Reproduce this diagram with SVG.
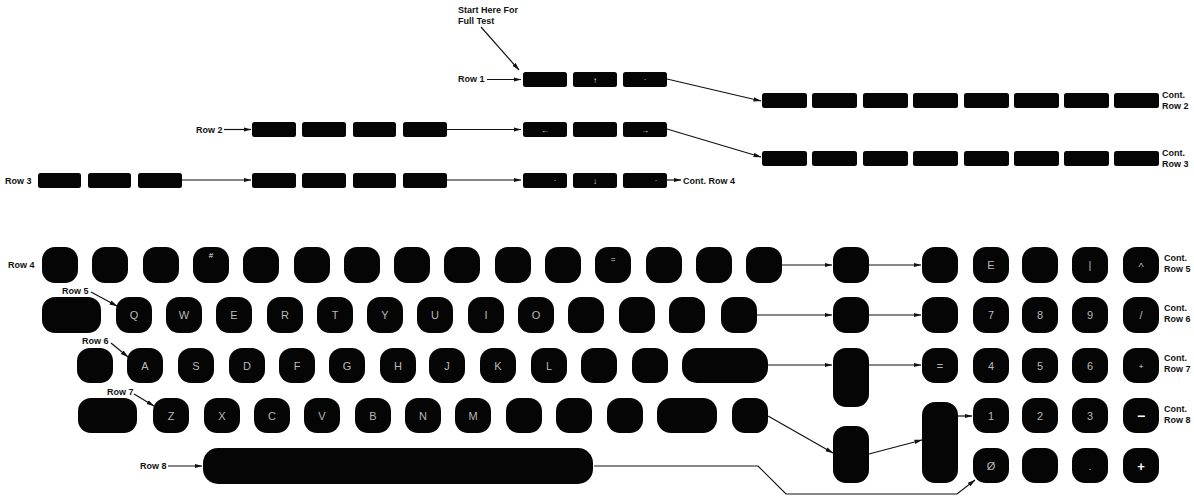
<svg xmlns="http://www.w3.org/2000/svg" width="1194" height="498" viewBox="0 0 1194 498">
<style>
.t{fill:#050505;}
.k{fill:#050505;}
.lbl{font-family:"Liberation Sans",Arial,sans-serif;font-size:9px;font-weight:bold;fill:#111;}
.lg{font-family:"Liberation Sans",Arial,sans-serif;font-size:11px;fill:#b8b8b8;text-anchor:middle;}
.sm{font-family:"Liberation Sans",Arial,sans-serif;font-size:8px;fill:#e0e0e0;text-anchor:middle;}
.c{fill:none;stroke:#111;stroke-width:1.2;}
</style>
<defs>
<marker id="a" markerWidth="8" markerHeight="6" refX="7.5" refY="3" orient="auto" markerUnits="userSpaceOnUse">
<path d="M0,0.8 L8,3 L0,5.2 Z" fill="#111"/>
</marker>
</defs>
<rect width="1194" height="498" fill="#fff"/>

<g id="labels">
<text class="lbl" x="458" y="13">Start Here For</text>
<text class="lbl" x="458" y="24">Full Test</text>
<text class="lbl" x="458" y="82">Row 1</text>
<text class="lbl" x="196" y="133">Row 2</text>
<text class="lbl" x="5" y="184">Row 3</text>
<text class="lbl" x="1162" y="98">Cont.</text>
<text class="lbl" x="1162" y="109">Row 2</text>
<text class="lbl" x="1162" y="156">Cont.</text>
<text class="lbl" x="1162" y="167">Row 3</text>
<text class="lbl" x="683" y="184">Cont. Row 4</text>
<text class="lbl" x="8" y="268">Row 4</text>
<text class="lbl" x="62" y="294">Row 5</text>
<text class="lbl" x="82" y="344">Row 6</text>
<text class="lbl" x="107" y="395">Row 7</text>
<text class="lbl" x="140" y="469">Row 8</text>
<text class="lbl" x="1164" y="261">Cont.</text>
<text class="lbl" x="1164" y="272">Row 5</text>
<text class="lbl" x="1164" y="311">Cont.</text>
<text class="lbl" x="1164" y="322">Row 6</text>
<text class="lbl" x="1164" y="361">Cont.</text>
<text class="lbl" x="1164" y="372">Row 7</text>
<text class="lbl" x="1164" y="412">Cont.</text>
<text class="lbl" x="1164" y="423">Row 8</text>
</g>

<g id="connectors">
<line class="c" x1="481" y1="27" x2="519" y2="70" marker-end="url(#a)"/>
<line class="c" x1="487" y1="79.5" x2="521" y2="79.5" marker-end="url(#a)"/>
<line class="c" x1="667" y1="79" x2="761" y2="101" marker-end="url(#a)"/>
<line class="c" x1="224" y1="129.5" x2="251" y2="129.5" marker-end="url(#a)"/>
<line class="c" x1="447" y1="129.5" x2="521" y2="129.5" marker-end="url(#a)"/>
<line class="c" x1="667" y1="129" x2="761" y2="157" marker-end="url(#a)"/>
<line class="c" x1="182" y1="180" x2="251" y2="180" marker-end="url(#a)"/>
<line class="c" x1="447" y1="180" x2="521" y2="180" marker-end="url(#a)"/>
<line class="c" x1="667" y1="180" x2="681" y2="180" marker-end="url(#a)"/>
<line class="c" x1="91" y1="292" x2="117" y2="306" marker-end="url(#a)"/>
<line class="c" x1="111" y1="343" x2="128" y2="357" marker-end="url(#a)"/>
<line class="c" x1="134" y1="394" x2="154" y2="406" marker-end="url(#a)"/>
<line class="c" x1="168" y1="466" x2="202" y2="466" marker-end="url(#a)"/>
<line class="c" x1="782" y1="265" x2="832" y2="265" marker-end="url(#a)"/>
<line class="c" x1="869" y1="265" x2="921" y2="265" marker-end="url(#a)"/>
<line class="c" x1="757" y1="315" x2="832" y2="315" marker-end="url(#a)"/>
<line class="c" x1="869" y1="315" x2="921" y2="315" marker-end="url(#a)"/>
<line class="c" x1="768" y1="365" x2="832" y2="365" marker-end="url(#a)"/>
<line class="c" x1="869" y1="365" x2="921" y2="365" marker-end="url(#a)"/>
<line class="c" x1="768" y1="416" x2="833" y2="453" marker-end="url(#a)"/>
<line class="c" x1="869" y1="454" x2="922" y2="440" marker-end="url(#a)"/>
<line class="c" x1="958" y1="416" x2="972" y2="416" marker-end="url(#a)"/>
<polyline class="c" points="594,466 758,466 786,494 957,494 975,480" marker-end="url(#a)"/>
</g>

<g id="top-row1">
<rect class="t" x="523" y="72" width="44" height="15" rx="2.5"/>
<rect class="t" x="573" y="72" width="44" height="15" rx="2.5"/>
<text class="sm" x="595" y="83">↑</text>
<rect class="t" x="623" y="72" width="44" height="15" rx="2.5"/>
<text class="sm" x="645" y="82">·</text>
</g>
<g id="top-row1-cont">
<rect class="t" x="762" y="93" width="45" height="15" rx="2.5"/>
<rect class="t" x="812" y="93" width="45" height="15" rx="2.5"/>
<rect class="t" x="863" y="93" width="45" height="15" rx="2.5"/>
<rect class="t" x="913" y="93" width="45" height="15" rx="2.5"/>
<rect class="t" x="964" y="93" width="45" height="15" rx="2.5"/>
<rect class="t" x="1014" y="93" width="45" height="15" rx="2.5"/>
<rect class="t" x="1064" y="93" width="45" height="15" rx="2.5"/>
<rect class="t" x="1114" y="93" width="45" height="15" rx="2.5"/>
</g>
<g id="top-row2">
<rect class="t" x="252" y="122" width="44" height="15" rx="2.5"/>
<rect class="t" x="302" y="122" width="44" height="15" rx="2.5"/>
<rect class="t" x="353" y="122" width="43" height="15" rx="2.5"/>
<rect class="t" x="403" y="122" width="44" height="15" rx="2.5"/>
<rect class="t" x="523" y="122" width="44" height="15" rx="2.5"/>
<text class="sm" x="545" y="133">←</text>
<rect class="t" x="573" y="122" width="44" height="15" rx="2.5"/>
<rect class="t" x="623" y="122" width="44" height="15" rx="2.5"/>
<text class="sm" x="645" y="133">→</text>
</g>
<g id="top-row2-cont">
<rect class="t" x="762" y="151" width="45" height="15" rx="2.5"/>
<rect class="t" x="812" y="151" width="45" height="15" rx="2.5"/>
<rect class="t" x="863" y="151" width="45" height="15" rx="2.5"/>
<rect class="t" x="913" y="151" width="45" height="15" rx="2.5"/>
<rect class="t" x="964" y="151" width="45" height="15" rx="2.5"/>
<rect class="t" x="1014" y="151" width="45" height="15" rx="2.5"/>
<rect class="t" x="1064" y="151" width="45" height="15" rx="2.5"/>
<rect class="t" x="1114" y="151" width="45" height="15" rx="2.5"/>
</g>
<g id="top-row3">
<rect class="t" x="38" y="173" width="43" height="15" rx="2.5"/>
<rect class="t" x="88" y="173" width="43" height="15" rx="2.5"/>
<rect class="t" x="138" y="173" width="44" height="15" rx="2.5"/>
<rect class="t" x="252" y="173" width="44" height="15" rx="2.5"/>
<rect class="t" x="302" y="173" width="44" height="15" rx="2.5"/>
<rect class="t" x="353" y="173" width="43" height="15" rx="2.5"/>
<rect class="t" x="403" y="173" width="44" height="15" rx="2.5"/>
<rect class="t" x="523" y="173" width="44" height="15" rx="2.5"/>
<text class="sm" x="555" y="183">·</text>
<rect class="t" x="573" y="173" width="44" height="15" rx="2.5"/>
<text class="sm" x="595" y="184">↓</text>
<rect class="t" x="623" y="173" width="44" height="15" rx="2.5"/>
<text class="sm" x="656" y="183">·</text>
</g>

<g id="kb-row4">
<rect class="k" x="42" y="247" width="36" height="36" rx="13"/>
<rect class="k" x="92" y="247" width="36" height="36" rx="13"/>
<rect class="k" x="143" y="247" width="36" height="36" rx="13"/>
<rect class="k" x="193" y="247" width="36" height="36" rx="13"/>
<text class="sm" x="211" y="258">#</text>
<rect class="k" x="243" y="247" width="36" height="36" rx="13"/>
<rect class="k" x="294" y="247" width="36" height="36" rx="13"/>
<rect class="k" x="344" y="247" width="36" height="36" rx="13"/>
<rect class="k" x="394" y="247" width="36" height="36" rx="13"/>
<rect class="k" x="444" y="247" width="36" height="36" rx="13"/>
<rect class="k" x="495" y="247" width="36" height="36" rx="13"/>
<rect class="k" x="545" y="247" width="36" height="36" rx="13"/>
<rect class="k" x="595" y="247" width="36" height="36" rx="13"/>
<text class="sm" x="613" y="262">=</text>
<rect class="k" x="646" y="247" width="36" height="36" rx="13"/>
<rect class="k" x="696" y="247" width="36" height="36" rx="13"/>
<rect class="k" x="746" y="247" width="36" height="36" rx="13"/>
</g>
<g id="kb-row5">
<rect class="k" x="42" y="297" width="59" height="36" rx="13"/>
<rect class="k" x="116" y="297" width="36" height="36" rx="13"/><text class="lg" x="134" y="319">Q</text>
<rect class="k" x="166" y="297" width="36" height="36" rx="13"/><text class="lg" x="184" y="319">W</text>
<rect class="k" x="216" y="297" width="36" height="36" rx="13"/><text class="lg" x="234" y="319">E</text>
<rect class="k" x="267" y="297" width="36" height="36" rx="13"/><text class="lg" x="285" y="319">R</text>
<rect class="k" x="317" y="297" width="36" height="36" rx="13"/><text class="lg" x="335" y="319">T</text>
<rect class="k" x="367" y="297" width="36" height="36" rx="13"/><text class="lg" x="385" y="319">Y</text>
<rect class="k" x="417" y="297" width="36" height="36" rx="13"/><text class="lg" x="435" y="319">U</text>
<rect class="k" x="468" y="297" width="36" height="36" rx="13"/><text class="lg" x="486" y="319">I</text>
<rect class="k" x="518" y="297" width="36" height="36" rx="13"/><text class="lg" x="536" y="319">O</text>
<rect class="k" x="568" y="297" width="36" height="36" rx="13"/>
<rect class="k" x="619" y="297" width="36" height="36" rx="13"/>
<rect class="k" x="669" y="297" width="36" height="36" rx="13"/>
<rect class="k" x="721" y="297" width="36" height="36" rx="13"/>
</g>
<g id="kb-row6">
<rect class="k" x="77" y="348" width="36" height="35" rx="13"/>
<rect class="k" x="127" y="348" width="36" height="35" rx="13"/><text class="lg" x="145" y="370" fill="#ddd">A</text>
<rect class="k" x="178" y="348" width="36" height="35" rx="13"/><text class="lg" x="196" y="370">S</text>
<rect class="k" x="229" y="348" width="36" height="35" rx="13"/><text class="lg" x="247" y="370">D</text>
<rect class="k" x="279" y="348" width="36" height="35" rx="13"/><text class="lg" x="297" y="370">F</text>
<rect class="k" x="329" y="348" width="36" height="35" rx="13"/><text class="lg" x="347" y="370">G</text>
<rect class="k" x="380" y="348" width="36" height="35" rx="13"/><text class="lg" x="398" y="370">H</text>
<rect class="k" x="429" y="348" width="36" height="35" rx="13"/><text class="lg" x="447" y="370">J</text>
<rect class="k" x="480" y="348" width="36" height="35" rx="13"/><text class="lg" x="498" y="370">K</text>
<rect class="k" x="531" y="348" width="36" height="35" rx="13"/><text class="lg" x="549" y="370">L</text>
<rect class="k" x="581" y="348" width="36" height="35" rx="13"/>
<rect class="k" x="632" y="348" width="36" height="35" rx="13"/>
<rect class="k" x="682" y="348" width="86" height="35" rx="15"/>
</g>
<g id="kb-row7">
<rect class="k" x="78" y="398" width="59" height="35" rx="13"/>
<rect class="k" x="153" y="398" width="36" height="35" rx="13"/><text class="lg" x="171" y="420">Z</text>
<rect class="k" x="204" y="398" width="36" height="35" rx="13"/><text class="lg" x="222" y="420">X</text>
<rect class="k" x="254" y="398" width="36" height="35" rx="13"/><text class="lg" x="272" y="420">C</text>
<rect class="k" x="304" y="398" width="36" height="35" rx="13"/><text class="lg" x="322" y="420">V</text>
<rect class="k" x="355" y="398" width="36" height="35" rx="13"/><text class="lg" x="373" y="420">B</text>
<rect class="k" x="405" y="398" width="36" height="35" rx="13"/><text class="lg" x="423" y="420">N</text>
<rect class="k" x="455" y="398" width="36" height="35" rx="13"/><text class="lg" x="473" y="420">M</text>
<rect class="k" x="506" y="398" width="36" height="35" rx="13"/>
<rect class="k" x="556" y="398" width="36" height="35" rx="13"/>
<rect class="k" x="607" y="398" width="36" height="35" rx="13"/>
<rect class="k" x="657" y="398" width="60" height="35" rx="14"/>
<rect class="k" x="732" y="398" width="36" height="35" rx="13"/>
</g>
<g id="kb-row8">
<rect class="k" x="203" y="448" width="390" height="36" rx="15"/>
</g>

<g id="keypad">
<rect class="k" x="833" y="247" width="36" height="36" rx="13"/>
<rect class="k" x="922" y="247" width="36" height="36" rx="13"/>
<rect class="k" x="973" y="247" width="36" height="36" rx="13"/><text class="lg" x="991" y="269">E</text>
<rect class="k" x="1022" y="247" width="36" height="36" rx="13"/>
<rect class="k" x="1072" y="247" width="36" height="36" rx="13"/><text class="lg" x="1090" y="269">|</text>
<rect class="k" x="1123" y="247" width="36" height="36" rx="13"/><text class="lg" x="1141" y="271">^</text>

<rect class="k" x="833" y="297" width="36" height="36" rx="13"/>
<rect class="k" x="922" y="297" width="36" height="36" rx="13"/>
<rect class="k" x="973" y="297" width="36" height="36" rx="13"/><text class="lg" x="991" y="319">7</text>
<rect class="k" x="1022" y="297" width="36" height="36" rx="13"/><text class="lg" x="1040" y="319">8</text>
<rect class="k" x="1072" y="297" width="36" height="36" rx="13"/><text class="lg" x="1090" y="319">9</text>
<rect class="k" x="1123" y="297" width="36" height="36" rx="13"/><text class="lg" x="1141" y="319">/</text>

<rect class="k" x="833" y="348" width="36" height="59" rx="13"/>
<rect class="k" x="922" y="348" width="36" height="35" rx="13"/><text class="lg" x="940" y="370">=</text>
<rect class="k" x="973" y="348" width="36" height="35" rx="13"/><text class="lg" x="991" y="370">4</text>
<rect class="k" x="1022" y="348" width="36" height="35" rx="13"/><text class="lg" x="1040" y="370">5</text>
<rect class="k" x="1072" y="348" width="36" height="35" rx="13"/><text class="lg" x="1090" y="370">6</text>
<rect class="k" x="1123" y="348" width="36" height="35" rx="13"/><text class="sm" x="1141" y="369">+</text>

<rect class="k" x="833" y="426" width="36" height="57" rx="13"/>
<rect class="k" x="922" y="402" width="36" height="81" rx="13"/>
<rect class="k" x="973" y="398" width="36" height="35" rx="13"/><text class="lg" x="991" y="420">1</text>
<rect class="k" x="1022" y="398" width="36" height="35" rx="13"/><text class="lg" x="1040" y="420">2</text>
<rect class="k" x="1072" y="398" width="36" height="35" rx="13"/><text class="lg" x="1090" y="420">3</text>
<rect class="k" x="1123" y="398" width="36" height="35" rx="13"/><text class="lg" x="1141" y="421" style="fill:#fff;font-size:14px;font-weight:bold">−</text>

<rect class="k" x="973" y="448" width="36" height="35" rx="13"/><text class="lg" x="991" y="470" fill="#ddd">Ø</text>
<rect class="k" x="1022" y="448" width="36" height="35" rx="13"/>
<rect class="k" x="1072" y="448" width="36" height="35" rx="13"/><text class="lg" x="1090" y="470">.</text>
<rect class="k" x="1123" y="448" width="36" height="35" rx="13"/><text class="lg" x="1141" y="471" style="fill:#fff;font-size:13px;font-weight:bold">+</text>
</g>
</svg>
